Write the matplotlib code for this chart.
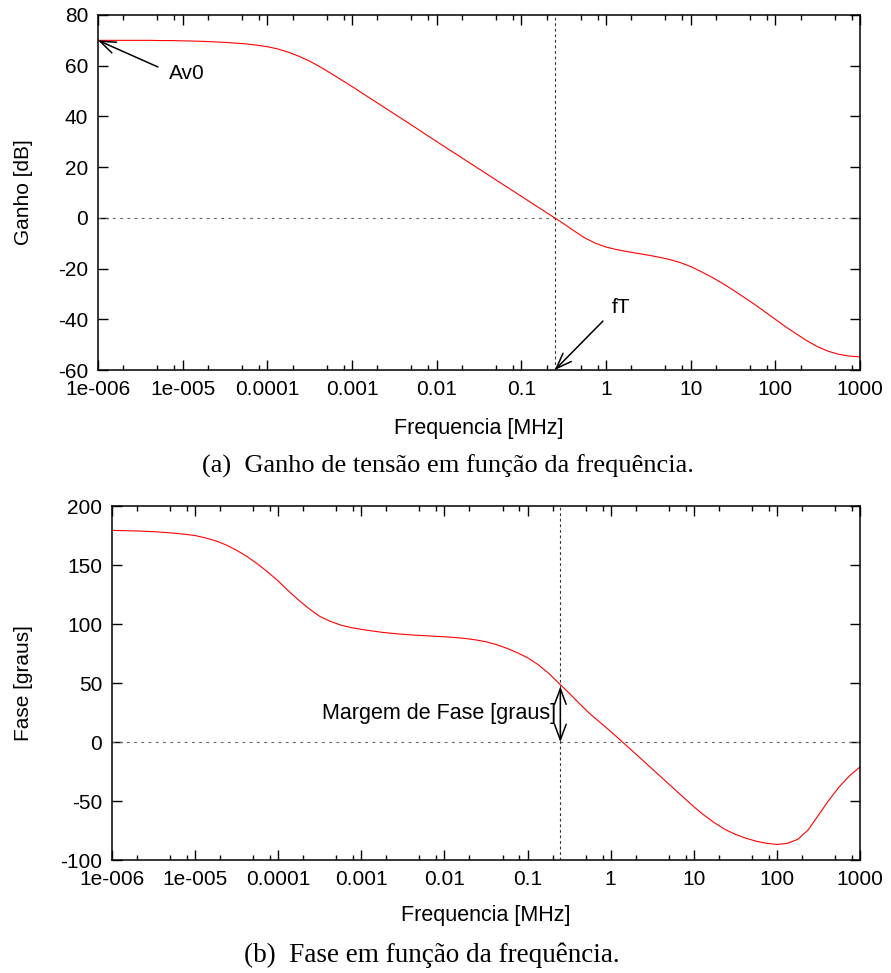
import matplotlib
matplotlib.use("Agg")
import matplotlib.pyplot as plt
from matplotlib.ticker import FixedLocator, FixedFormatter, NullFormatter

plt.rcParams["font.family"] = ["Liberation Sans", "DejaVu Sans"]
plt.rcParams["axes.unicode_minus"] = False

# ---------------------------------------------------------------------------
# Data (frequency in MHz, eighth-decade samples)
# ---------------------------------------------------------------------------
freq_mhz = [
    1e-6, 1.33e-6, 1.78e-6, 2.37e-6, 3.16e-6, 4.22e-6, 5.62e-6, 7.5e-6,
    1e-5, 1.33e-5, 1.78e-5, 2.37e-5, 3.16e-5, 4.22e-5, 5.62e-5, 7.5e-5,
    1e-4, 1.33e-4, 1.78e-4, 2.37e-4, 3.16e-4, 4.22e-4, 5.62e-4, 7.5e-4,
    1e-3, 1.33e-3, 1.78e-3, 2.37e-3, 3.16e-3, 4.22e-3, 5.62e-3, 7.5e-3,
    1e-2, 1.33e-2, 1.78e-2, 2.37e-2, 3.16e-2, 4.22e-2, 5.62e-2, 7.5e-2,
    0.1, 0.133, 0.178, 0.237, 0.316, 0.422, 0.562, 0.75,
    1.0, 1.33, 1.78, 2.37, 3.16, 4.22, 5.62, 7.5,
    10.0, 13.3, 17.8, 23.7, 31.6, 42.2, 56.2, 75.0,
    100.0, 133.0, 178.0, 237.0, 316.0, 422.0, 562.0, 750.0,
    1000.0,
]

gain_db = [
    70.0, 70.0, 70.0, 70.0, 70.0, 70.0, 69.9, 69.9,
    69.8, 69.7, 69.6, 69.4, 69.2, 68.9, 68.6, 68.1,
    67.5, 66.6, 65.3, 63.7, 61.8, 59.5, 57.0, 54.4,
    51.8, 49.1, 46.4, 43.7, 41.0, 38.3, 35.6, 32.8,
    30.1, 27.4, 24.7, 22.0, 19.3, 16.6, 13.9, 11.2,
    8.5, 5.8, 3.1, 0.4, -2.3, -5.2, -7.9, -10.0,
    -11.5, -12.5, -13.3, -14.0, -14.7, -15.5, -16.4, -17.6,
    -19.2, -21.2, -23.4, -25.8, -28.4, -31.2, -34.0, -37.0,
    -40.0, -43.0, -45.8, -48.5, -50.8, -52.6, -53.8, -54.5,
    -54.8,
]

phase_deg = [
    179.4, 179.2, 179.0, 178.7, 178.3, 177.7, 177.0, 176.1,
    175.0, 173.0, 170.5, 167.0, 162.5, 157.2, 151.0, 144.0,
    136.5, 128.0, 120.0, 112.8, 106.5, 102.3, 99.2, 97.0,
    95.5, 94.2, 93.0, 92.1, 91.3, 90.7, 90.2, 89.7,
    89.2, 88.6, 87.8, 86.6, 85.0, 82.6, 79.5, 75.8,
    71.5, 65.8, 58.5, 50.0, 41.5, 32.5, 24.0, 16.5,
    9.0, 1.2, -6.8, -14.8, -22.8, -30.8, -38.8, -46.8,
    -54.8, -62.0, -68.5, -74.0, -78.2, -81.5, -84.0, -85.8,
    -86.8, -85.9, -82.5, -74.6, -62.0, -49.3, -38.0, -28.5,
    -21.1,
]

f_t = 0.248          # unity-gain frequency [MHz]
av0 = 70.0           # DC gain [dB]
phase_margin = 47.0  # phase at f_t [graus]

x_major = [1e-6, 1e-5, 1e-4, 1e-3, 1e-2, 0.1, 1, 10, 100, 1000]
x_labels = ["1e-006", "1e-005", "0.0001", "0.001", "0.01", "0.1",
            "1", "10", "100", "1000"]
x_minor = [m * d for d in x_major[:-1] for m in (2, 5, 8)]

FS = 15


# ---------------------------------------------------------------------------
# Shared gnuplot-like axis styling
# ---------------------------------------------------------------------------
def style_axis(ax, yticks):
    ax.set_xscale("log")
    ax.set_xlim(1e-6, 1000)
    ax.set_ylim(yticks[0], yticks[-1])
    ax.xaxis.set_major_locator(FixedLocator(x_major))
    ax.xaxis.set_major_formatter(FixedFormatter(x_labels))
    ax.xaxis.set_minor_locator(FixedLocator(x_minor))
    ax.xaxis.set_minor_formatter(NullFormatter())
    ax.set_yticks(yticks)
    ax.tick_params(which="both", direction="in", top=True, right=True,
                   labelsize=FS, width=1.0, colors="black", pad=7)
    ax.tick_params(which="major", length=7)
    ax.tick_params(which="minor", length=3.5)
    for sp in ax.spines.values():
        sp.set_linewidth(1.1)
    ax.axhline(0, color="#666666", lw=0.8, ls=(0, (2.5, 4)))
    ax.axvline(f_t, color="#333333", lw=0.8, ls=(0, (2.5, 2.5)))
    ax.set_xlabel("Frequencia [MHz]", fontsize=FS + 0.5)


fig = plt.figure(figsize=(8.91, 9.73), dpi=100)
head = "->,head_length=0.8,head_width=0.3"

# --- (a) gain ---------------------------------------------------------------
ax1 = fig.add_axes([0.110, 0.6197, 0.8552, 0.3649])
style_axis(ax1, [-60, -40, -20, 0, 20, 40, 60, 80])
ax1.plot(freq_mhz, gain_db, color="red", lw=0.8)
ax1.set_ylabel("Ganho [dB]", fontsize=FS)
ax1.yaxis.set_label_coords(-0.085, 0.5)
ax1.xaxis.set_label_coords(0.5, -0.135)

ax1.annotate("", xy=(1e-6, av0), xytext=(5.1e-6, 59.5),
             arrowprops=dict(arrowstyle=head, color="black", lw=1.1,
                             shrinkA=0, shrinkB=0, mutation_scale=14),
             annotation_clip=False)
ax1.text(6.8e-6, 57.0, "Av0", fontsize=FS, va="center", ha="left")
ax1.annotate("", xy=(f_t, -60), xytext=(0.92, -40.7),
             arrowprops=dict(arrowstyle=head, color="black", lw=1.1,
                             shrinkA=0, shrinkB=0, mutation_scale=14),
             annotation_clip=False)
ax1.text(1.17, -35.5, "fT", fontsize=FS, va="center", ha="left")

fig.text(0.503, 1 - 466 / 973, "(a)  Ganho de tensão em função da frequência.",
         ha="center", va="center", fontsize=19,
         family=["Liberation Serif", "DejaVu Serif"])

# --- (b) phase --------------------------------------------------------------
ax2 = fig.add_axes([0.1257, 0.1161, 0.8395, 0.3638])
style_axis(ax2, [-100, -50, 0, 50, 100, 150, 200])
ax2.plot(freq_mhz, phase_deg, color="red", lw=0.8)
ax2.set_ylabel("Fase [graus]", fontsize=FS)
ax2.yaxis.set_label_coords(-0.105, 0.5)
ax2.xaxis.set_label_coords(0.5, -0.128)

ax2.annotate("", xy=(f_t, phase_margin), xytext=(f_t, 0),
             arrowprops=dict(arrowstyle="<->,head_length=0.8,head_width=0.3",
                             color="black", lw=1.1, shrinkA=0, shrinkB=0,
                             mutation_scale=14))
ax2.text(0.22, 24.6, "Margem de Fase [graus]", fontsize=FS + 0.5,
         ha="right", va="center")

fig.text(0.485, 1 - 955 / 973, "(b)  Fase em função da frequência.",
         ha="center", va="center", fontsize=19.5,
         family=["Liberation Serif", "DejaVu Serif"])

fig.savefig("out.png", dpi=100)
